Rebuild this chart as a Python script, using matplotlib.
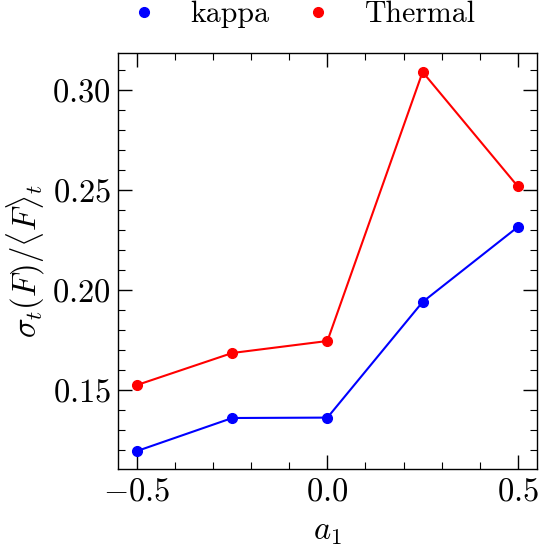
import matplotlib
matplotlib.use("Agg")
import matplotlib.pyplot as plt
from matplotlib.lines import Line2D
from matplotlib.ticker import MultipleLocator, FormatStrFormatter

# data
a1 = [-0.5, -0.25, 0.0, 0.25, 0.5]
kappa = [0.1195, 0.136, 0.1362, 0.194, 0.2315]
thermal = [0.1525, 0.1685, 0.1745, 0.309, 0.2518]
labels = ["kappa", "Thermal"]
colors = ["#0000ff", "#ff0000"]

plt.rcParams.update({
    "font.family": "serif",
    "font.serif": ["cmr10"],
    "mathtext.fontset": "cm",
    "axes.formatter.use_mathtext": True,
    "axes.unicode_minus": True,
    "font.size": 23.5,
    "xtick.direction": "in",
    "ytick.direction": "in",
    "xtick.top": True,
    "ytick.right": True,
    "xtick.minor.visible": True,
    "ytick.minor.visible": True,
    "xtick.major.size": 10,
    "ytick.major.size": 10,
    "xtick.minor.size": 5,
    "ytick.minor.size": 5,
    "xtick.major.width": 1.0,
    "ytick.major.width": 1.0,
    "xtick.minor.width": 0.8,
    "ytick.minor.width": 0.8,
    "axes.linewidth": 1.0,
    "xtick.major.pad": 6,
    "ytick.major.pad": 5,
})

fig = plt.figure(figsize=(5.54, 5.46), dpi=100)
ax = fig.add_axes([0.213, 0.141, 0.756, 0.762])

for ys, c in zip([kappa, thermal], colors):
    ax.plot(a1, ys, color=c, lw=1.5, marker="o", ms=7)

ax.set_xlim(-0.55, 0.55)
ax.set_ylim(0.1105, 0.3185)
ax.xaxis.set_major_locator(MultipleLocator(0.5))
ax.xaxis.set_minor_locator(MultipleLocator(0.1))
ax.yaxis.set_major_locator(MultipleLocator(0.05))
ax.yaxis.set_minor_locator(MultipleLocator(0.01))
ax.xaxis.set_major_formatter(FormatStrFormatter("$%.1f$"))
ax.yaxis.set_major_formatter(FormatStrFormatter("$%.2f$"))

ax.set_xlabel(r"$a_1$", labelpad=8)
ax.set_ylabel(r"$\sigma_t(F)/\langle F\rangle_t$", labelpad=4)

handles = [Line2D([], [], ls="none", marker="o", ms=7, color=c) for c in colors]
ax.legend(handles, labels, loc="lower center", bbox_to_anchor=(0.44, 1.06),
          ncol=2, frameon=False, fontsize=21.5, handlelength=1.0,
          handletextpad=1.05, columnspacing=1.15, borderaxespad=0, borderpad=0)

fig.savefig("out.png", dpi=100)
